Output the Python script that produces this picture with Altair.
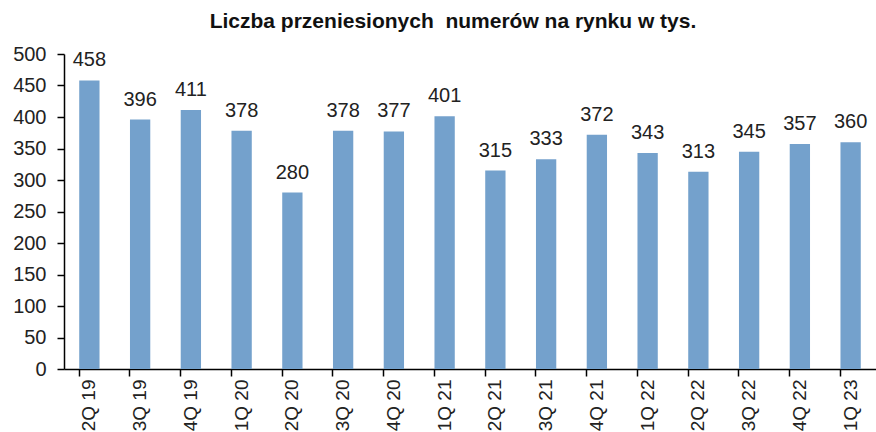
import altair as alt
import pandas as pd

quarters = ["2Q 19", "3Q 19", "4Q 19", "1Q 20", "2Q 20", "3Q 20", "4Q 20", "1Q 21",
            "2Q 21", "3Q 21", "4Q 21", "1Q 22", "2Q 22", "3Q 22", "4Q 22", "1Q 23"]
values = [458, 396, 411, 378, 280, 378, 377, 401, 315, 333, 372, 343, 313, 345, 357, 360]
y_ticks = [0, 50, 100, 150, 200, 250, 300, 350, 400, 450, 500]

df = pd.DataFrame({"q": quarters, "v": values})
FONT = "Liberation Sans"

x = alt.X("q:N", sort=quarters, title=None,
          scale=alt.Scale(paddingInner=0.6, paddingOuter=0.3),
          axis=alt.Axis(labelAngle=270, labelAlign="right", labelBaseline="middle",
                        labelFontSize=19, labelFont=FONT, labelColor="#222",
                        tickSize=7, labelPadding=3, bandPosition=0,
                        domainColor="#000", tickColor="#000", domainWidth=1.5, tickWidth=1.5))
y = alt.Y("v:Q", title=None,
          scale=alt.Scale(domain=[0, 500], nice=False),
          axis=alt.Axis(values=y_ticks, grid=False, labelOverlap=False, tickCount=11,
                        labelFontSize=20, labelFont=FONT, labelColor="#222",
                        tickSize=7, labelPadding=11,
                        domainColor="#000", tickColor="#000", domainWidth=1.5, tickWidth=1.5))

bars = alt.Chart(df).mark_bar(color="#74a1cc").encode(x=x, y=y)
labels = alt.Chart(df).mark_text(baseline="bottom", dy=-10, fontSize=20, font=FONT, color="#222").encode(
    x=x, y=y, text="v:Q")

chart = (bars + labels).properties(
    width=812, height=315,
    autosize=alt.AutoSizeParams(type="none"),
    padding={"left": 64, "top": 54, "right": 0, "bottom": 63},
    title=alt.Title("Liczba przeniesionych\u00a0 numerów na rynku w tys.", font=FONT, fontSize=21,
                    fontWeight="bold", color="#111", offset=12, dx=-17),
).configure_view(stroke=None)

chart.save("out.html", embed_options={"renderer": "svg", "actions": False})
